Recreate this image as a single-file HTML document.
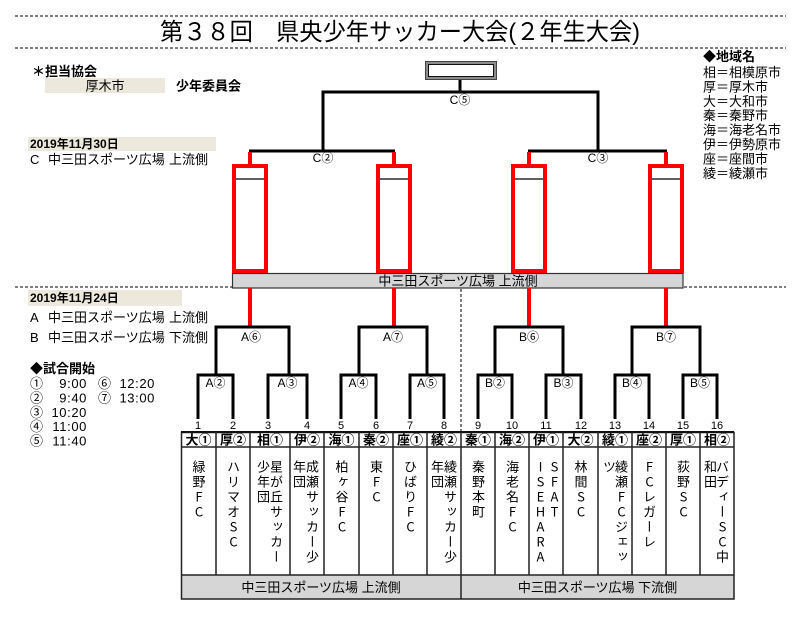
<!DOCTYPE html>
<html><head><meta charset="utf-8"><style>
html,body{margin:0;padding:0;background:#fff;}
body{width:800px;height:620px;position:relative;overflow:hidden;font-family:"Liberation Sans","Noto Sans CJK JP",sans-serif;}
svg{position:absolute;left:0;top:0;}
.v{position:absolute;top:460px;width:14px;writing-mode:vertical-rl;text-orientation:upright;font-family:"Noto Sans CJK JP","Liberation Sans",sans-serif;font-size:13px;line-height:14px;letter-spacing:2px;color:#000;white-space:nowrap;}
</style></head><body>
<svg width="800" height="620" viewBox="0 0 800 620" xmlns="http://www.w3.org/2000/svg" font-family="Liberation Sans, Noto Sans CJK JP, sans-serif">
<!-- title -->
<line x1="15" y1="16" x2="786" y2="16" stroke="#000" stroke-width="1" stroke-dasharray="3,2"/>
<line x1="15" y1="48" x2="786" y2="48" stroke="#000" stroke-width="1" stroke-dasharray="3,2"/>
<text x="160" y="40" font-size="24" textLength="480" lengthAdjust="spacingAndGlyphs">第３８回　県央少年サッカー大会(２年生大会)</text>

<!-- left info top -->
<text x="32" y="76" font-size="13" font-weight="bold">＊担当協会</text>
<rect x="45" y="78" width="120" height="15" fill="#ece9dc"/>
<text x="105" y="90.5" font-size="13" text-anchor="middle">厚木市</text>
<text x="176" y="90.5" font-size="13" font-weight="bold">少年委員会</text>

<rect x="28" y="137" width="188" height="14" fill="#ece9dc"/>
<text x="30" y="148" font-size="12" font-weight="bold">2019年11月30日</text>
<text x="30" y="164" font-size="13">C</text>
<text x="48" y="164" font-size="13">中三田スポーツ広場</text>
<text x="169" y="164" font-size="13">上流側</text>

<!-- legend -->
<g font-size="13">
<text x="703" y="61" font-weight="bold">◆地域名</text>
<text x="703" y="77">相＝相模原市</text>
<text x="703" y="91.4">厚＝厚木市</text>
<text x="703" y="105.8">大＝大和市</text>
<text x="703" y="120.2">秦＝秦野市</text>
<text x="703" y="134.6">海＝海老名市</text>
<text x="703" y="149">伊＝伊勢原市</text>
<text x="703" y="163.4">座＝座間市</text>
<text x="703" y="177.8">綾＝綾瀬市</text>
</g>

<!-- final box -->
<rect x="425.5" y="61.5" width="71" height="18" fill="#8c8c8c" stroke="#444" stroke-width="1"/>
<rect x="428.5" y="64.5" width="65" height="12" fill="#fff" stroke="#111" stroke-width="1"/>
<g stroke="#000" stroke-width="3" fill="none" stroke-linejoin="miter">
<line x1="460" y1="80" x2="460" y2="92"/>
<polyline points="323,151 323,92 598,92 598,151"/>
<line x1="249" y1="151" x2="395" y2="151"/>
<line x1="528" y1="151" x2="667" y2="151"/>
</g>
<g font-size="12" text-anchor="middle">
<text x="460" y="104">C⑤</text>
<text x="323" y="162">C②</text>
<text x="598" y="162">C③</text>
</g>

<!-- upper band -->
<rect x="232.5" y="273.5" width="450.5" height="14.5" fill="#d6d6d6" stroke="#333" stroke-width="1.2"/>
<text x="458" y="285.5" font-size="13" text-anchor="middle">中三田スポーツ広場 上流側</text>
<line x1="15" y1="287" x2="232" y2="287" stroke="#000" stroke-width="1" stroke-dasharray="3,2"/>
<line x1="684" y1="287" x2="786" y2="287" stroke="#000" stroke-width="1" stroke-dasharray="3,2"/>

<!-- red boxes -->
<g stroke="#ff0000" stroke-width="4" fill="#fff">
<rect x="234" y="166" width="32" height="105"/>
<rect x="378" y="166" width="32" height="105"/>
<rect x="513" y="166" width="32" height="105"/>
<rect x="650" y="166" width="32" height="105"/>
</g>
<g stroke="#ff0000" stroke-width="4">
<line x1="250" y1="152" x2="250" y2="164"/>
<line x1="394" y1="152" x2="394" y2="164"/>
<line x1="529" y1="152" x2="529" y2="164"/>
<line x1="666" y1="152" x2="666" y2="164"/>
<line x1="250" y1="288" x2="250" y2="326"/>
<line x1="394" y1="288" x2="394" y2="326"/>
<line x1="529" y1="288" x2="529" y2="326"/>
<line x1="666" y1="288" x2="666" y2="326"/>
</g>
<g stroke="#000" stroke-width="1.2">
<line x1="236" y1="179" x2="264" y2="179"/>
<line x1="380" y1="179" x2="408" y2="179"/>
<line x1="515" y1="179" x2="543" y2="179"/>
<line x1="652" y1="179" x2="680" y2="179"/>
</g>

<!-- vertical dashed divider -->
<line x1="461" y1="289" x2="461" y2="432" stroke="#000" stroke-width="1" stroke-dasharray="3,2"/>

<!-- lower brackets -->
<g stroke="#000" stroke-width="3" fill="none" stroke-linejoin="miter">
<polyline points="216,375 216,327 289,327 289,375"/>
<polyline points="359,375 359,327 427,327 427,375"/>
<polyline points="495,375 495,327 563,327 563,375"/>
<polyline points="632,375 632,327 700,327 700,375"/>
<polyline points="198,419 198,375 233,375 233,419"/>
<polyline points="268,419 268,375 307,375 307,419"/>
<polyline points="341,419 341,375 376,375 376,419"/>
<polyline points="410,419 410,375 444,375 444,419"/>
<polyline points="478,419 478,375 512,375 512,419"/>
<polyline points="546,419 546,375 581,375 581,419"/>
<polyline points="615,419 615,375 649,375 649,419"/>
<polyline points="683,419 683,375 717,375 717,419"/>
</g>
<g font-size="12" text-anchor="middle">
<text x="251" y="341">A⑥</text>
<text x="393" y="341">A⑦</text>
<text x="529" y="341">B⑥</text>
<text x="666" y="341">B⑦</text>
<text x="215.5" y="387">A②</text>
<text x="287.5" y="387">A③</text>
<text x="358.5" y="387">A④</text>
<text x="427" y="387">A⑤</text>
<text x="495" y="387">B②</text>
<text x="563.5" y="387">B③</text>
<text x="632" y="387">B④</text>
<text x="700" y="387">B⑤</text>
</g>
<g font-size="11" text-anchor="middle">
<text x="198" y="429">1</text><text x="233" y="429">2</text><text x="268" y="429">3</text><text x="307" y="429">4</text>
<text x="341" y="429">5</text><text x="376" y="429">6</text><text x="410" y="429">7</text><text x="444" y="429">8</text>
<text x="478" y="429">9</text><text x="512" y="429">10</text><text x="546" y="429">11</text><text x="581" y="429">12</text>
<text x="615" y="429">13</text><text x="649" y="429">14</text><text x="683" y="429">15</text><text x="717" y="429">16</text>
</g>

<!-- left info lower -->
<rect x="28" y="290" width="154" height="16" fill="#ece9dc"/>
<text x="30" y="302" font-size="12" font-weight="bold">2019年11月24日</text>
<text x="30" y="322" font-size="13">A</text>
<text x="48" y="322" font-size="13">中三田スポーツ広場</text>
<text x="169" y="322" font-size="13">上流側</text>
<text x="30" y="342" font-size="13">B</text>
<text x="48" y="342" font-size="13">中三田スポーツ広場</text>
<text x="169" y="342" font-size="13">下流側</text>
<text x="30" y="373" font-size="13" font-weight="bold">◆試合開始</text>
<g font-size="13">
<text x="30" y="388">①</text><text x="87" y="388" text-anchor="end" letter-spacing="0.6">9:00</text>
<text x="98" y="388">⑥</text><text x="155" y="388" text-anchor="end" letter-spacing="0.6">12:20</text>
<text x="30" y="402.4">②</text><text x="87" y="402.4" text-anchor="end" letter-spacing="0.6">9:40</text>
<text x="98" y="402.4">⑦</text><text x="155" y="402.4" text-anchor="end" letter-spacing="0.6">13:00</text>
<text x="30" y="416.8">③</text><text x="87" y="416.8" text-anchor="end" letter-spacing="0.6">10:20</text>
<text x="30" y="431.2">④</text><text x="87" y="431.2" text-anchor="end" letter-spacing="0.6">11:00</text>
<text x="30" y="445.6">⑤</text><text x="87" y="445.6" text-anchor="end" letter-spacing="0.6">11:40</text>
</g>

<!-- table -->
<rect x="181" y="575" width="553" height="24" fill="#d6d6d6"/>
<rect x="181.5" y="432.5" width="552.5" height="166.5" fill="none" stroke="#222" stroke-width="1.5"/>
<line x1="181" y1="432" x2="734" y2="432" stroke="#111" stroke-width="2"/>
<line x1="181" y1="447" x2="734" y2="447" stroke="#222" stroke-width="1.5"/>
<line x1="181" y1="575" x2="734" y2="575" stroke="#222" stroke-width="1.5"/>
<g stroke="#222" stroke-width="1.5">
<line x1="216" y1="432" x2="216" y2="575"/><line x1="250" y1="432" x2="250" y2="575"/>
<line x1="290" y1="432" x2="290" y2="575"/><line x1="324" y1="432" x2="324" y2="575"/>
<line x1="359" y1="432" x2="359" y2="575"/><line x1="393" y1="432" x2="393" y2="575"/>
<line x1="427" y1="432" x2="427" y2="575"/><line x1="461" y1="432" x2="461" y2="599"/>
<line x1="495" y1="432" x2="495" y2="575"/><line x1="529" y1="432" x2="529" y2="575"/>
<line x1="563" y1="432" x2="563" y2="575"/><line x1="598" y1="432" x2="598" y2="575"/>
<line x1="632" y1="432" x2="632" y2="575"/><line x1="666" y1="432" x2="666" y2="575"/>
<line x1="700" y1="432" x2="700" y2="575"/>
</g>
<g font-size="13" font-weight="bold" text-anchor="middle">
<text x="198.5" y="444.5">大①</text><text x="233" y="444.5">厚②</text>
<text x="270" y="444.5">相①</text><text x="307" y="444.5">伊②</text>
<text x="341.5" y="444.5">海①</text><text x="376" y="444.5">秦②</text>
<text x="410" y="444.5">座①</text><text x="444" y="444.5">綾②</text>
<text x="478" y="444.5">秦①</text><text x="512" y="444.5">海②</text>
<text x="546" y="444.5">伊①</text><text x="580.5" y="444.5">大②</text>
<text x="615" y="444.5">綾①</text><text x="649" y="444.5">座②</text>
<text x="683" y="444.5">厚①</text><text x="717" y="444.5">相②</text>
</g>
<text x="321" y="592" font-size="13" text-anchor="middle">中三田スポーツ広場 上流側</text>
<text x="597.5" y="592" font-size="13" text-anchor="middle">中三田スポーツ広場 下流側</text>
</svg>

<div class="v" style="left:191.5px">緑野FC</div>
<div class="v" style="left:226px">ハリマオSC</div>
<div class="v" style="left:269px">星が丘サッカー</div>
<div class="v" style="left:256px">少年団</div>
<div class="v" style="left:305px">成瀬サッカー少</div>
<div class="v" style="left:292px">年団</div>
<div class="v" style="left:334.5px">柏ヶ谷FC</div>
<div class="v" style="left:369px">東FC</div>
<div class="v" style="left:403px">ひばりFC</div>
<div class="v" style="left:443px">綾瀬サッカー少</div>
<div class="v" style="left:430px">年団</div>
<div class="v" style="left:471px">秦野本町</div>
<div class="v" style="left:505px">海老名FC</div>
<div class="v" style="left:547px">SFAT</div>
<div class="v" style="left:533px">ISEHARA</div>
<div class="v" style="left:573.5px">林間SC</div>
<div class="v" style="left:614px">綾瀬FCジェッ</div>
<div class="v" style="left:602px">ツ</div>
<div class="v" style="left:642px">FCレガーレ</div>
<div class="v" style="left:676px">荻野SC</div>
<div class="v" style="left:715px">バディーSC中</div>
<div class="v" style="left:703px">和田</div>
</body></html>
